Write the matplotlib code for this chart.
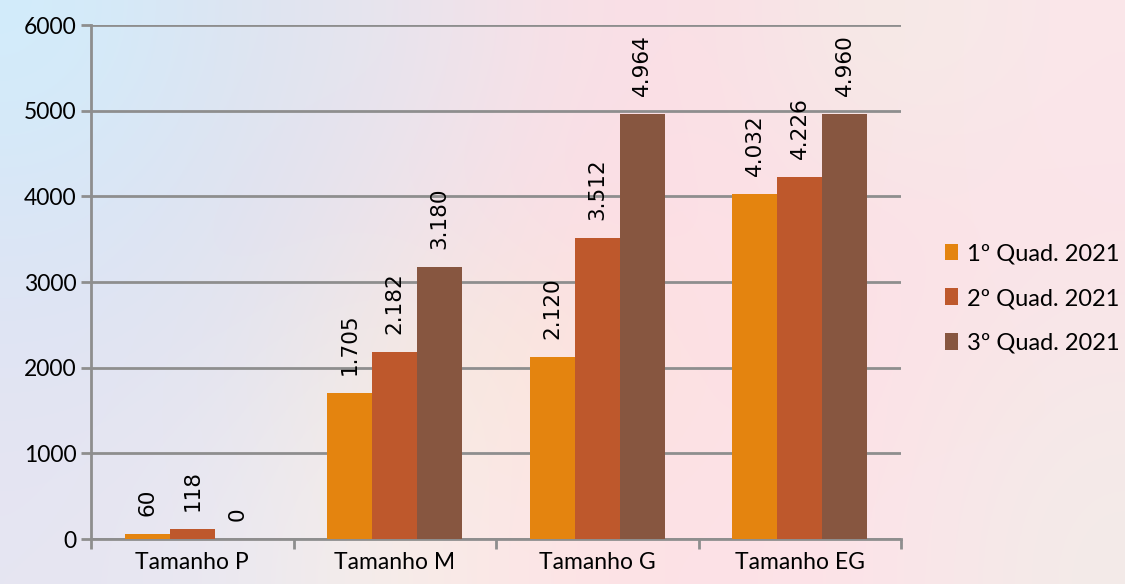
import numpy as np
import matplotlib
matplotlib.use('Agg')
import matplotlib.pyplot as plt
from matplotlib.colors import to_rgb

# dados do gráfico
categorias = ['Tamanho P', 'Tamanho M', 'Tamanho G', 'Tamanho EG']
series = ['1º Quad. 2021', '2º Quad. 2021', '3º Quad. 2021']
quad1 = [60, 1705, 2120, 4032]
quad2 = [118, 2182, 3512, 4226]
quad3 = [0, 3180, 4964, 4960]
rotulos1 = ['60', '1.705', '2.120', '4.032']
rotulos2 = ['118', '2.182', '3.512', '4.226']
rotulos3 = ['0', '3.180', '4.964', '4.960']

cores = ['#E4840F', '#BE582C', '#875640']

fig = plt.figure(figsize=(11.25, 5.84), dpi=100)

# fundo desfocado (aproximação)
fundo = [
    ['#d2ecfb', '#dde4f1', '#e8e5ee', '#f9e0e6', '#fbdfe6', '#f4ece6', '#fbe6ea'],
    ['#dae6f6', '#e0e2f0', '#efe3ea', '#fcdee4', '#fde0e6', '#fbe1e7', '#fbe4e9'],
    ['#e1e4f3', '#e5e5ef', '#f6ebe2', '#fce6da', '#fddfe5', '#fce2e7', '#f7e8e8'],
    ['#e6e5f2', '#ebe9f1', '#f8eee8', '#fde3e6', '#fde1e6', '#fce4e9', '#f3ebe8'],
]
img = np.array([[to_rgb(c) for c in linha] for linha in fundo])
bg = fig.add_axes([0, 0, 1, 1])
bg.imshow(img, aspect='auto', interpolation='bicubic', extent=[0, 1, 0, 1])
bg.axis('off')

ax = fig.add_axes([0.0809, 0.077, 0.72, 0.880])
ax.patch.set_alpha(0)

x = np.arange(len(categorias))
largura = 1 / 4.5
dados = [quad1, quad2, quad3]
rotulos = [rotulos1, rotulos2, rotulos3]

for i, (vals, rots) in enumerate(zip(dados, rotulos)):
    pos = x + (i - 1) * largura
    ax.bar(pos, vals, width=largura, color=cores[i], label=series[i], zorder=3)
    for xp, v, r in zip(pos, vals, rots):
        ax.annotate(r, (xp, v), xytext=(0, 13), textcoords='offset points',
                    rotation=90, ha='center', va='bottom', fontsize=15.5,
                    family='DejaVu Sans', color='black')

ax.set_xlim(-0.5, 3.5)
ax.set_ylim(0, 6000)
ax.set_yticks(range(0, 6001, 1000))
ax.yaxis.grid(True, color='#8e8e8e', linewidth=2, zorder=0)
ax.set_axisbelow(True)

ax.set_xticks([-0.5, 0.5, 1.5, 2.5, 3.5])
ax.set_xticklabels([])
ax.set_xticks(x, minor=True)
ax.set_xticklabels(categorias, minor=True, family='Lato', fontsize=16.5)
ax.tick_params(axis='x', which='major', length=7, width=2, color='#8e8e8e')
ax.tick_params(axis='x', which='minor', length=0, pad=9, labelcolor='black')
ax.tick_params(axis='y', length=7, width=2, color='#8e8e8e', labelsize=16.5,
               labelcolor='black')
for t in ax.get_yticklabels():
    t.set_family('Lato')

for lado in ['top', 'right']:
    ax.spines[lado].set_visible(False)
for lado in ['left', 'bottom']:
    ax.spines[lado].set_color('#8e8e8e')
    ax.spines[lado].set_linewidth(2)

ax.legend(loc='center left', bbox_to_anchor=(1.043, 0.468), frameon=False,
          prop={'family': 'Lato', 'size': 17}, handlelength=0.55,
          handleheight=0.7, handletextpad=0.35, labelspacing=1.0,
          borderaxespad=0)

fig.savefig('out.png', dpi=100)
